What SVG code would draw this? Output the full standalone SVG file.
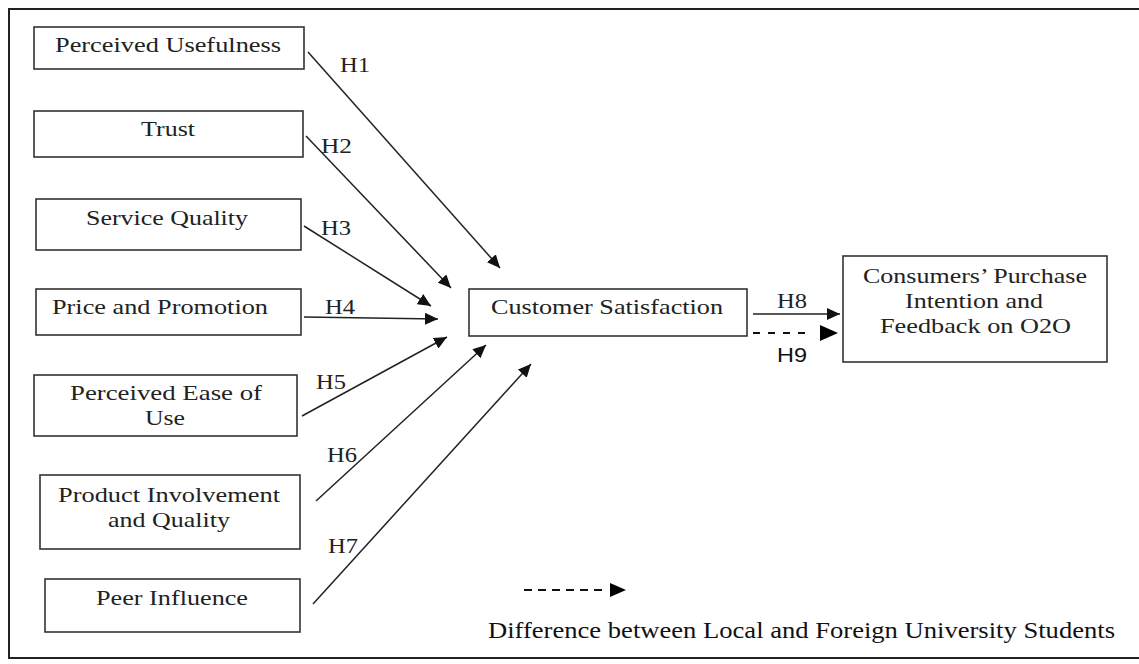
<svg xmlns="http://www.w3.org/2000/svg" width="1139" height="664" viewBox="0 0 1139 664">
<style>
.box{fill:#fff;stroke:#333;stroke-width:1.6}
.t{font-family:"Liberation Serif","Times New Roman",serif;font-size:21px;fill:#222}
.lg{font-family:"Liberation Serif","Times New Roman",serif;font-size:23px;fill:#111}
.sans{font-family:"Liberation Sans",Arial,sans-serif;font-size:21px;fill:#111}
.ln{stroke:#222;stroke-width:1.5;fill:none}
.dash{stroke:#111;stroke-width:2;fill:none}
.head{fill:#000}
</style>
<defs>
<marker id="ah" markerUnits="userSpaceOnUse" markerWidth="14" markerHeight="12" refX="13" refY="6" orient="auto">
<path d="M0,0 L13,6 L0,12 Z" fill="#111"/>
</marker>
</defs>
<rect x="9" y="9" width="1150" height="649" fill="#fff" stroke="#222" stroke-width="2"/>

<g id="connectors">
<line class="ln" x1="308" y1="52" x2="500" y2="268" marker-end="url(#ah)"/>
<line class="ln" x1="306" y1="136" x2="451" y2="288" marker-end="url(#ah)"/>
<line class="ln" x1="304" y1="226" x2="431" y2="306" marker-end="url(#ah)"/>
<line class="ln" x1="304" y1="317" x2="438" y2="319" marker-end="url(#ah)"/>
<line class="ln" x1="302" y1="416" x2="447" y2="337" marker-end="url(#ah)"/>
<line class="ln" x1="316" y1="501" x2="486" y2="345" marker-end="url(#ah)"/>
<line class="ln" x1="313" y1="604" x2="531" y2="364" marker-end="url(#ah)"/>
<line class="ln" x1="753" y1="314" x2="840" y2="314" marker-end="url(#ah)"/>
<line class="dash" x1="753" y1="333" x2="806" y2="333" stroke-dasharray="7,8"/>
<path class="head" d="M820,325 L838,333 L820,341 Z"/>
<line class="dash" x1="524" y1="590" x2="603" y2="590" stroke-dasharray="8,6"/>
<path class="head" d="M610,583 L626,590 L610,597 Z"/>
<text class="t" x="340" y="72" textLength="30" lengthAdjust="spacingAndGlyphs">H1</text>
<text class="t" x="321" y="153" textLength="31" lengthAdjust="spacingAndGlyphs">H2</text>
<text class="t" x="321" y="235" textLength="30" lengthAdjust="spacingAndGlyphs">H3</text>
<text class="t" x="325" y="314" textLength="30" lengthAdjust="spacingAndGlyphs">H4</text>
<text class="t" x="316" y="389" textLength="30" lengthAdjust="spacingAndGlyphs">H5</text>
<text class="t" x="327" y="462" textLength="30" lengthAdjust="spacingAndGlyphs">H6</text>
<text class="t" x="328" y="553" textLength="30" lengthAdjust="spacingAndGlyphs">H7</text>
<text class="t" x="777" y="308" textLength="30" lengthAdjust="spacingAndGlyphs">H8</text>
<text class="sans" x="777" y="362" textLength="30" lengthAdjust="spacingAndGlyphs">H9</text>
</g>

<g id="n1"><rect class="box" x="34" y="27" width="270" height="42"/><text class="t" x="55" y="52" textLength="226" lengthAdjust="spacingAndGlyphs">Perceived Usefulness</text></g>
<g id="n2"><rect class="box" x="34" y="111" width="269" height="46"/><text class="t" x="141" y="136" textLength="54" lengthAdjust="spacingAndGlyphs">Trust</text></g>
<g id="n3"><rect class="box" x="36" y="199" width="265" height="51"/><text class="t" x="86" y="225" textLength="162" lengthAdjust="spacingAndGlyphs">Service Quality</text></g>
<g id="n4"><rect class="box" x="36" y="289" width="265" height="46"/><text class="t" x="52" y="314" textLength="216" lengthAdjust="spacingAndGlyphs">Price and Promotion</text></g>
<g id="n5"><rect class="box" x="34" y="375" width="263" height="61"/><text class="t" x="70" y="400" textLength="192" lengthAdjust="spacingAndGlyphs">Perceived Ease of</text><text class="t" x="145" y="425" textLength="40" lengthAdjust="spacingAndGlyphs">Use</text></g>
<g id="n6"><rect class="box" x="40" y="475" width="260" height="74"/><text class="t" x="58" y="502" textLength="222" lengthAdjust="spacingAndGlyphs">Product Involvement</text><text class="t" x="108" y="527" textLength="122" lengthAdjust="spacingAndGlyphs">and Quality</text></g>
<g id="n7"><rect class="box" x="45" y="579" width="255" height="53"/><text class="t" x="96" y="605" textLength="152" lengthAdjust="spacingAndGlyphs">Peer Influence</text></g>
<g id="cs"><rect class="box" x="469" y="289" width="278" height="47"/><text class="t" x="491" y="314" textLength="232" lengthAdjust="spacingAndGlyphs">Customer Satisfaction</text></g>
<g id="cpi"><rect class="box" x="843" y="256" width="264" height="106"/>
<text class="t" x="863" y="283" textLength="224" lengthAdjust="spacingAndGlyphs">Consumers’ Purchase</text>
<text class="t" x="905" y="308" textLength="138" lengthAdjust="spacingAndGlyphs">Intention and</text>
<text class="t" x="880" y="333" textLength="191" lengthAdjust="spacingAndGlyphs">Feedback on O2O</text></g>
<g id="legend"><text class="lg" x="488" y="638" textLength="627" lengthAdjust="spacingAndGlyphs">Difference between Local and Foreign University Students</text></g>
</svg>
